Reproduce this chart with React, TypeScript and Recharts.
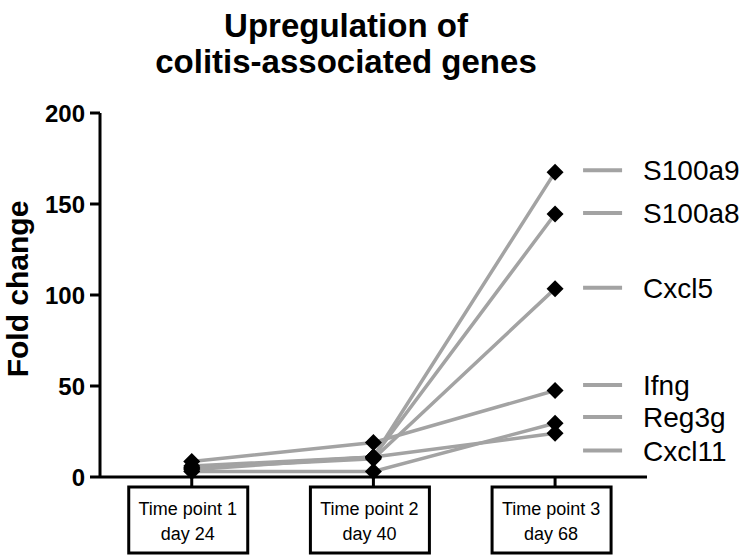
import React from 'react';
import { ComposedChart, Line, Scatter, XAxis, YAxis } from 'recharts';

const timePoints = [1, 2, 3];
const tpLabels = ['Time point 1', 'Time point 2', 'Time point 3'];
const dayLabels = ['day 24', 'day 40', 'day 68'];
const genes = ['S100a9', 'S100a8', 'Cxcl5', 'Ifng', 'Reg3g', 'Cxcl11'];
const S100a9 = [6, 11, 167.5];
const S100a8 = [5, 11, 144.5];
const Cxcl5 = [5, 10, 103.5];
const Ifng = [8.5, 19, 47.5];
const Reg3g = [3, 3, 29.5];
const Cxcl11 = [4, 11, 24];
const labelLevels = [168.5, 145, 104, 50.5, 33, 14.5];
const yTicks = [0, 50, 100, 150, 200];

const seriesValues: Record<string, number[]> = { S100a9, S100a8, Cxcl5, Ifng, Reg3g, Cxcl11 };

const data = timePoints.map((t, i) => {
  const row: any = { t };
  genes.forEach((g) => (row[g] = seriesValues[g][i]));
  return row;
});

const labelData = genes.map((g, i) => ({ t: 3, ly: labelLevels[i], name: g }));

const FONT = '"Liberation Sans", Arial, Helvetica, sans-serif';
const GRAY = '#a3a3a3';

const Diamond = (props: any) => {
  const { cx, cy, key } = props;
  if (cx == null || cy == null) return <g key={key} />;
  const s = 8.5;
  return (
    <path
      key={key}
      d={`M${cx},${cy - s} L${cx + s},${cy} L${cx},${cy + s} L${cx - s},${cy} Z`}
      fill="#000"
      stroke="none"
    />
  );
};

const BoxTick = (props: any) => {
  const { x, y, payload } = props;
  const idx = timePoints.indexOf(payload.value);
  if (idx < 0) return <g />;
  const cx = x - 4;
  return (
    <g>
      <line x1={x} y1={y} x2={x} y2={y + 10} stroke="#000" strokeWidth={3} />
      <rect x={x - 63} y={y + 10} width={119} height={66} fill="#fff" stroke="#000" strokeWidth={3} />
      <text x={cx} y={y + 38} textAnchor="middle" fontFamily={FONT} fontSize={18} fill="#000">
        {tpLabels[idx]}
      </text>
      <text x={cx} y={y + 63} textAnchor="middle" fontFamily={FONT} fontSize={18} fill="#000">
        {dayLabels[idx]}
      </text>
    </g>
  );
};

const LabelShape = (props: any) => {
  const { cx, cy, payload } = props;
  return (
    <g>
      <line x1={cx + 28} y1={cy} x2={cx + 67} y2={cy} stroke={GRAY} strokeWidth={4} />
      <text x={cx + 88} y={cy + 10} fontFamily={FONT} fontSize={28} fill="#000">
        {payload.name}
      </text>
    </g>
  );
};

export default function App() {
  return (
    <div style={{ position: 'absolute', left: 0, top: 0, width: 750, height: 559, background: '#fff' }}>
      <ComposedChart
        width={750}
        height={559}
        data={data}
        margin={{ top: 113, right: 103, bottom: 22, left: 30 }}
      >
        <XAxis
          dataKey="t"
          type="number"
          domain={[0.495, 3.506]}
          ticks={timePoints}
          tick={<BoxTick />}
          tickLine={false}
          tickSize={0}
          tickMargin={0}
          height={60}
          axisLine={{ stroke: '#000', strokeWidth: 3 }}
          interval={0}
        />
        <YAxis
          type="number"
          domain={[0, 200]}
          ticks={yTicks}
          width={70}
          tickSize={10}
          tickMargin={5}
          axisLine={{ stroke: '#000', strokeWidth: 3 }}
          tickLine={{ stroke: '#000', strokeWidth: 3 }}
          tick={{ fill: '#000', fontSize: 24, fontWeight: 'bold', fontFamily: FONT }}
          interval={0}
        />
        {genes.map((g) => (
          <Line
            key={'l' + g}
            dataKey={g}
            stroke={GRAY}
            strokeWidth={3.5}
            dot={false}
            activeDot={false}
            isAnimationActive={false}
          />
        ))}
        {genes.map((g) => (
          <Line
            key={'d' + g}
            dataKey={g}
            stroke="none"
            strokeWidth={0}
            dot={Diamond}
            activeDot={false}
            isAnimationActive={false}
          />
        ))}
        <Scatter data={labelData} dataKey="ly" shape={LabelShape} isAnimationActive={false} />
      </ComposedChart>
      <svg
        width={750}
        height={559}
        style={{ position: 'absolute', left: 0, top: 0, pointerEvents: 'none' }}
      >
        <text x={346} y={37} textAnchor="middle" fontFamily={FONT} fontSize={33} fontWeight="bold" fill="#000">
          Upregulation of
        </text>
        <text x={346} y={73} textAnchor="middle" fontFamily={FONT} fontSize={33} fontWeight="bold" fill="#000">
          colitis-associated genes
        </text>
        <text
          x={0}
          y={0}
          transform="translate(28,289) rotate(-90)"
          textAnchor="middle"
          fontFamily={FONT}
          fontSize={30}
          fontWeight="bold"
          fill="#000"
        >
          Fold change
        </text>
      </svg>
    </div>
  );
}
